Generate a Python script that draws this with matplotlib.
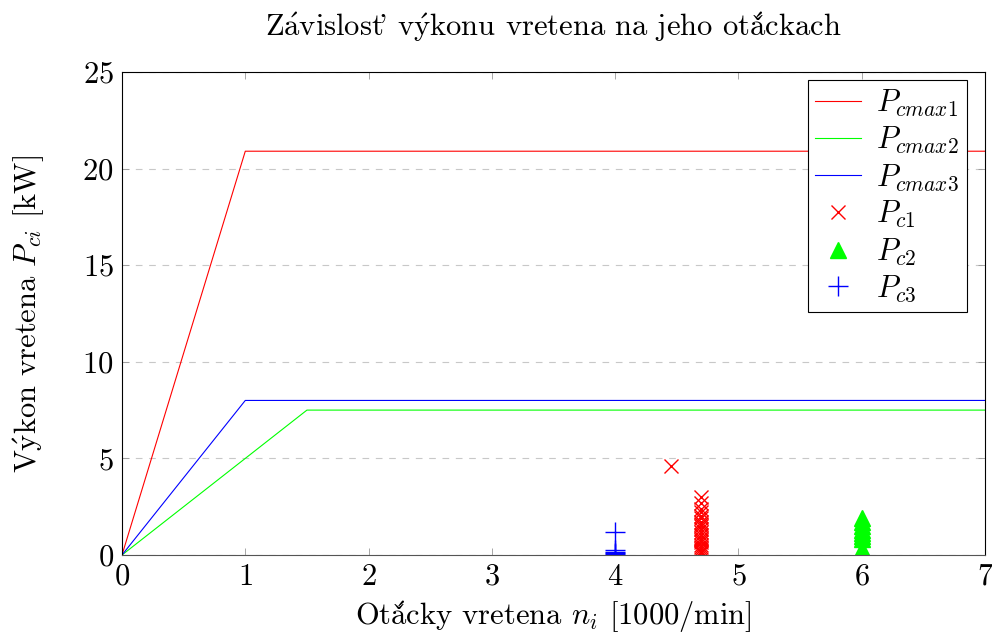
import matplotlib
matplotlib.use("Agg")
import matplotlib.pyplot as plt

# Data
line_x1 = [0, 1, 7]
line_y1 = [0, 20.9, 20.9]
line_x2 = [0, 1.5, 7]
line_y2 = [0, 7.5, 7.5]
line_x3 = [0, 1, 7]
line_y3 = [0, 8.0, 8.0]

pc1_x = [4.45] + [4.7] * 21
pc1_y = [4.6, 3.0, 2.7, 2.4, 2.2, 2.0, 1.9, 1.7, 1.6, 1.5, 1.35, 1.2, 1.05, 0.9, 0.8, 0.65, 0.5, 0.4, 0.3, 0.2, 0.15, 0.1]
pc2_x = [6] * 10
pc2_y = [1.9, 1.7, 1.5, 1.3, 1.15, 1.0, 0.85, 0.3, 0.2, 0.1]
pc3_x = [4] * 5
pc3_y = [1.2, 0.25, 0.15, 0.1, 0.05]

title = r"Z$\acute{\rm a}$vislost$\!$' v$\acute{\rm y}$konu vretena na jeho ot$\acute{\rm a}\check{\rm c}$kach"
xlabel = r"Ot$\acute{\rm a}\check{\rm c}$ky vretena $n_i$ [1000/min]"
ylabel = r"V$\acute{\rm y}$kon vretena $P_{ci}$ [kW]"

plt.rcParams['font.family'] = ['cmr10']
plt.rcParams['mathtext.fontset'] = 'cm'
plt.rcParams['axes.formatter.use_mathtext'] = True

fig = plt.figure(figsize=(9.92, 6.37), dpi=100)
ax = fig.add_axes([122/992, 82/637, (985-122)/992, (555-72)/637])

ax.plot(line_x1, line_y1, color='#ff0000', lw=0.8, label=r'$P_{cmax1}$')
ax.plot(line_x2, line_y2, color='#00ff00', lw=0.8, label=r'$P_{cmax2}$')
ax.plot(line_x3, line_y3, color='#0000ff', lw=0.8, label=r'$P_{cmax3}$')
ax.plot(pc1_x, pc1_y, ls='none', marker='x', color='#ff0000', ms=10, mew=1.0, label=r'$P_{c1}$')
ax.plot(pc2_x, pc2_y, ls='none', marker='^', color='#00ff00', ms=11, label=r'$P_{c2}$')
ax.plot(pc3_x, pc3_y, ls='none', marker='+', color='#0000ff', ms=14, mew=1.0, label=r'$P_{c3}$')

ax.set_xlim(0, 7)
ax.set_ylim(0, 25)
ax.set_xticks(range(0, 8))
ax.set_yticks([0, 5, 10, 15, 20, 25])
ax.grid(axis='y', ls=(0, (6, 6)), color='#c8c8c8', lw=0.8)
ax.set_axisbelow(True)
ax.tick_params(direction='in', top=True, right=True, labelsize=22, length=5, width=0.6,
               pad=6, color='#999999')
for s in ax.spines.values():
    s.set_linewidth(0.8)
ax.spines['bottom'].set_color('#555555')

ax.set_title(title, fontsize=22, pad=26)
ax.set_xlabel(xlabel, fontsize=22, labelpad=6)
ax.set_ylabel(ylabel, fontsize=22, labelpad=26)

leg = ax.legend(loc='upper right', bbox_to_anchor=(0.979, 0.983), fontsize=22, frameon=True,
                fancybox=False, edgecolor='black', framealpha=1, borderpad=0.25,
                labelspacing=0.2, handlelength=1.5, handletextpad=0.5, borderaxespad=0)
leg.get_frame().set_linewidth(0.8)

fig.savefig('out.png', dpi=100)
